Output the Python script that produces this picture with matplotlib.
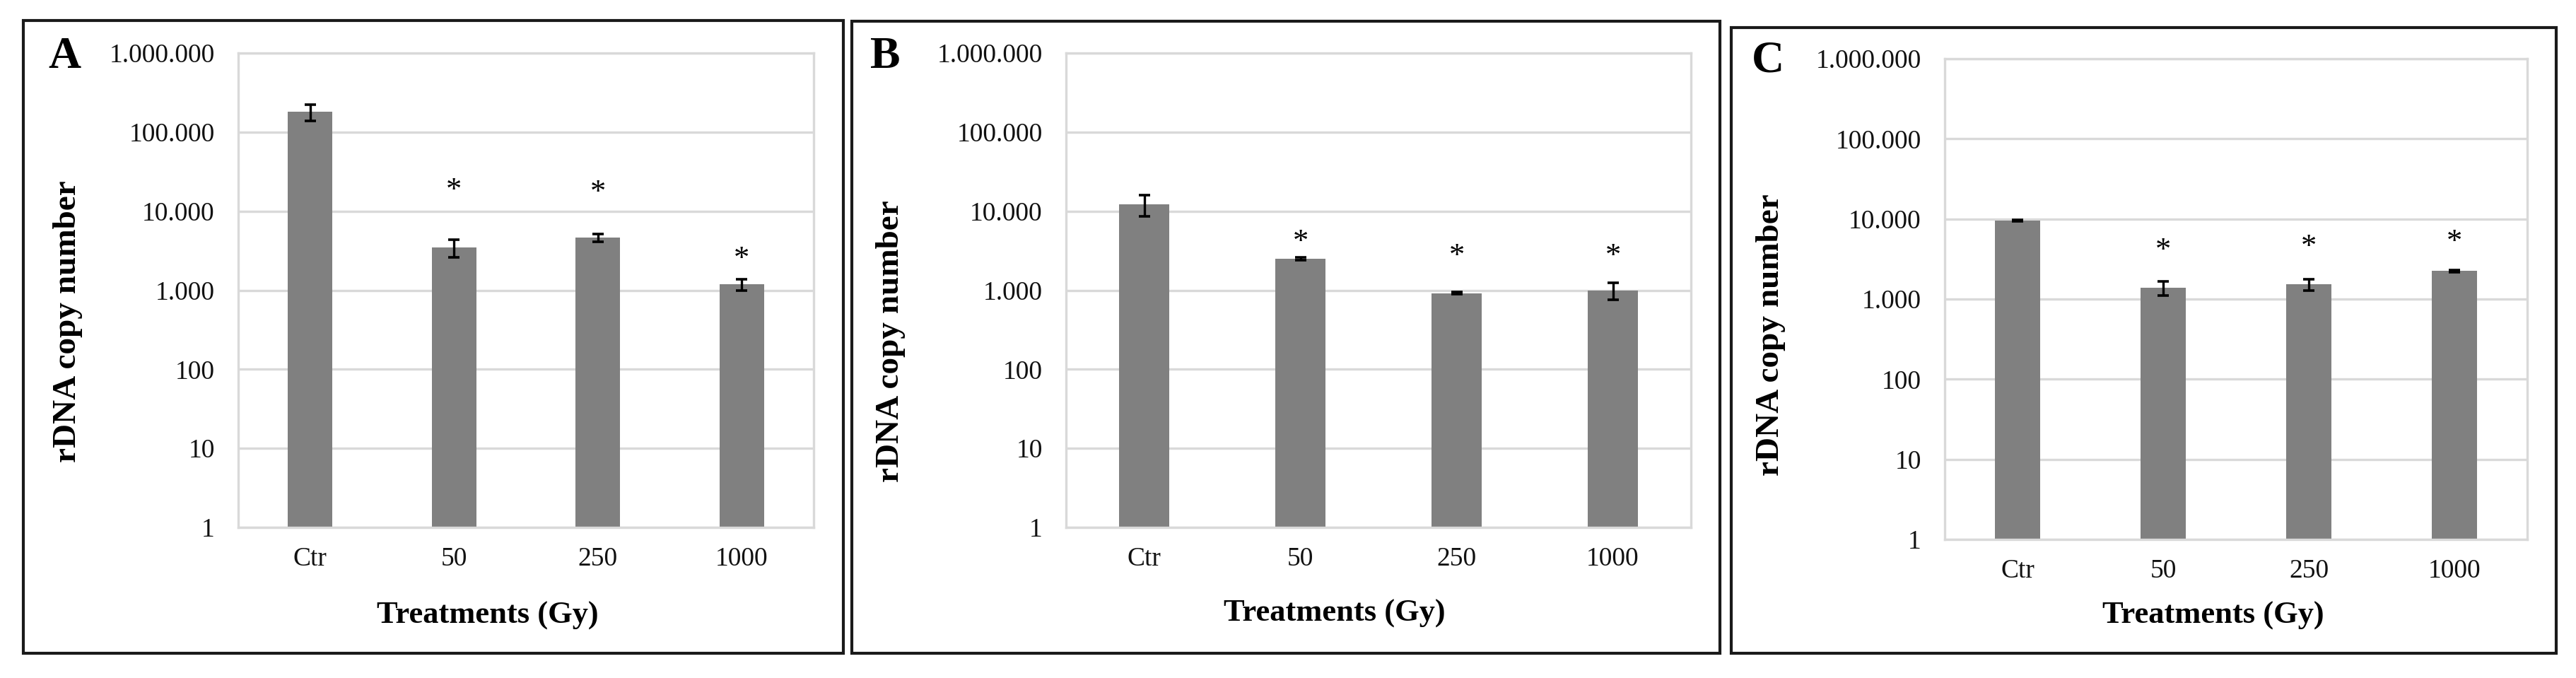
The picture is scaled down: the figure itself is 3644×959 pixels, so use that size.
import matplotlib
matplotlib.use("Agg")
import matplotlib.pyplot as plt
import matplotlib.patches as mpatches
import matplotlib.transforms as mtransforms
from matplotlib.ticker import FixedLocator, FixedFormatter, NullLocator

plt.rcParams['font.family'] = ['Liberation Serif', 'DejaVu Serif']

# ---------------- data ----------------
categories = ['Ctr', '50', '250', '1000']

A_mean = [180000, 3500, 4600, 1190]
A_err = [42000, 900, 500, 190]
A_sig_y = [None, 21900, 20300, 2950]

B_mean = [12200, 2500, 916, 1000]
B_err = [3600, 100, 30, 250]
B_sig_y = [None, 4880, 3220, 3220]

C_mean = [9500, 1380, 1530, 2250]
C_err = [200, 270, 250, 70]
C_sig_y = [None, 4810, 5310, 6160]

y_ticks = [1, 10, 100, 1000, 10000, 100000, 1000000]
y_tick_labels = ['1', '10', '100', '1.000', '10.000', '100.000', '1.000.000']

panel_letters = ['A', 'B', 'C']
y_label = 'rDNA copy number'
x_label = 'Treatments (Gy)'

# ---------------- layout ----------------
W, H = 3644, 959
DPI = 100
fig = plt.figure(figsize=(W / DPI, H / DPI), dpi=DPI)

def fx(px):
    return px / W

def fy(py):
    return 1 - py / H

axes_px = [(337, 75, 1151, 746), (1508, 75, 2392, 746), (2751, 83, 3575, 763)]
frames_px = [(33, 29, 1193, 924), (1205, 30, 2433, 924), (2449, 39, 3616, 924)]
letter_px = [(91, 81), (1252, 81), (2501, 87)]
ylab_px = [(96, 455), (1260, 483), (2505, 474)]
xlab_px = [(690, 871), (1888, 868), (3131, 871)]
bar_widths = [0.31, 0.32, 0.31]

grid_col = '#d9d9d9'
bar_col = '#808080'

panels = [(A_mean, A_err, A_sig_y), (B_mean, B_err, B_sig_y), (C_mean, C_err, C_sig_y)]

for i, (means, errs, sig) in enumerate(panels):
    l, t, r, b = axes_px[i]
    ax = fig.add_axes([fx(l), fy(b), fx(r) - fx(l), fy(t) - fy(b)])
    ax.set_yscale('log')
    ax.set_ylim(1, 1e6)
    ax.set_xlim(-0.5, len(categories) - 0.5)
    xs = list(range(len(categories)))
    ax.bar(xs, means, width=bar_widths[i], color=bar_col, zorder=2)
    ax.errorbar(xs, means, yerr=errs, fmt='none', ecolor='black',
                elinewidth=2.4, capsize=6, capthick=2.6, zorder=3)
    ax.set_axisbelow(True)
    ax.yaxis.set_major_locator(FixedLocator(y_ticks))
    ax.yaxis.set_major_formatter(FixedFormatter(y_tick_labels))
    ax.yaxis.set_minor_locator(NullLocator())
    ax.set_xticks(xs)
    ax.set_xticklabels(categories)
    ax.grid(axis='y', color=grid_col, linewidth=2.4)
    ax.tick_params(axis='y', length=0, pad=24, labelsize=27, labelcolor='#111111')
    ax.tick_params(axis='x', length=0, pad=20, labelsize=27, labelcolor='#111111')
    for sp in ax.spines.values():
        sp.set_color(grid_col)
        sp.set_linewidth(2.4)
    trans = mtransforms.offset_copy(ax.transData, fig=fig, x=0, y=-20, units='dots')
    for xi, sy in zip(xs, sig):
        if sy is not None:
            ax.text(xi, sy, '*', transform=trans, ha='center', va='baseline',
                    fontsize=32, color='black', zorder=4)

    # panel frame
    fl, ft, fr, fb = frames_px[i]
    fig.add_artist(mpatches.Rectangle((fx(fl), fy(fb)), fx(fr) - fx(fl), fy(ft) - fy(fb),
                                      transform=fig.transFigure, fill=False,
                                      edgecolor='#1a1a1a', linewidth=3))
    lx, ly = letter_px[i]
    fig.text(fx(lx), fy(ly), panel_letters[i], ha='center', va='center',
             fontsize=46, fontweight='bold')
    yx, yy = ylab_px[i]
    fig.text(fx(yx), fy(yy), y_label, ha='center', va='center', rotation=90,
             fontsize=34, fontweight='bold')
    xx, xy = xlab_px[i]
    fig.text(fx(xx), fy(xy), x_label, ha='center', va='center',
             fontsize=32, fontweight='bold')

fig.savefig('out.png', dpi=DPI, facecolor='white')
